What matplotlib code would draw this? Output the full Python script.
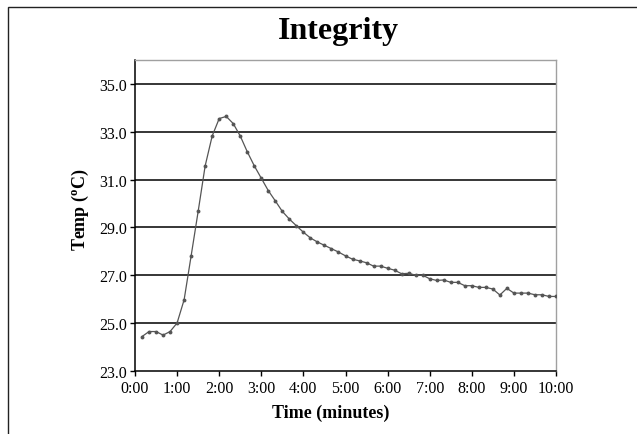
import matplotlib
matplotlib.use("Agg")
import matplotlib.pyplot as plt
from matplotlib.patches import Rectangle

plt.rcParams['font.family'] = ['Liberation Serif', 'DejaVu Serif']
plt.rcParams['mathtext.fontset'] = 'custom'
plt.rcParams['mathtext.rm'] = 'Liberation Serif'
plt.rcParams['mathtext.bf'] = 'Liberation Serif:bold'

# time in seconds
times = list(range(10, 610, 10))
temps = [24.43, 24.64, 24.64, 24.49, 24.64, 25.00, 25.97, 27.81, 29.67, 31.58,
         32.83, 33.56, 33.65, 33.35, 32.83, 32.17, 31.58, 31.06, 30.54, 30.11,
         29.67, 29.35, 29.07, 28.80, 28.56, 28.39, 28.25, 28.11, 27.97, 27.81,
         27.67, 27.60, 27.52, 27.38, 27.38, 27.29, 27.21, 27.06, 27.08, 27.00,
         27.00, 26.85, 26.78, 26.80, 26.70, 26.70, 26.56, 26.56, 26.49, 26.49,
         26.42, 26.17, 26.45, 26.25, 26.25, 26.25, 26.18, 26.18, 26.11, 26.11]

x_ticks = list(range(0, 660, 60))
x_labels = ["0:00", "1:00", "2:00", "3:00", "4:00", "5:00", "6:00", "7:00", "8:00", "9:00", "10:00"]
y_ticks = [23.0, 25.0, 27.0, 29.0, 31.0, 33.0, 35.0]
y_labels = ["23.0", "25.0", "27.0", "29.0", "31.0", "33.0", "35.0"]

W, H = 637, 435
fig = plt.figure(figsize=(W / 100, H / 100), dpi=100)

# outer frame (cut off at right and bottom)
fig.patches.append(Rectangle((8.3 / W, -0.05), 1.2, (H - 7.7) / H + 0.05,
                             transform=fig.transFigure, fill=False,
                             edgecolor='#222222', linewidth=1.0))

x0, x1, ytop, ybot = 135, 556, 61.3, 371.7
ax = fig.add_axes([x0 / W, (H - ybot) / H, (x1 - x0) / W, (ybot - ytop) / H])

for yv in y_ticks[1:]:
    ax.axhline(yv, color='black', linewidth=1.1, zorder=1)

ax.plot(times, temps, color='#555555', linewidth=0.9, marker='o',
        markersize=2.8, markerfacecolor='#555555', markeredgewidth=0, zorder=3)

ax.set_xlim(0, 600)
ax.set_ylim(23, 36)
ax.set_xticks(x_ticks)
ax.set_xticklabels(x_labels)
ax.set_yticks(y_ticks)
ax.set_yticklabels(y_labels)
ax.tick_params(axis='both', direction='out', length=3.5, width=1, labelsize=11.5, colors='black', pad=2)
ax.tick_params(axis='x', pad=3)

for s in ['left', 'bottom']:
    ax.spines[s].set_color('black')
    ax.spines[s].set_linewidth(1.1)
for s in ['top', 'right']:
    ax.spines[s].set_color('#a0a0a0')
    ax.spines[s].set_linewidth(1.0)

fig.text(338 / W, 1 - 32 / H, "Integrity", ha='center', va='center',
         fontsize=23, fontweight='bold')
ax.set_xlabel("Time (minutes)", fontsize=13, fontweight='bold')
ax.set_ylabel(r"Temp ($\mathbf{^{o}}$C)", fontsize=13, fontweight='bold')
ax.xaxis.set_label_coords((331 - x0) / (x1 - x0), (ybot - 413) / (ybot - ytop))
ax.xaxis.label.set_va('center')
ax.yaxis.set_label_coords((80 - x0) / (x1 - x0), (ybot - 210) / (ybot - ytop))
ax.yaxis.label.set_va('center')

fig.savefig("out.png", dpi=100)
